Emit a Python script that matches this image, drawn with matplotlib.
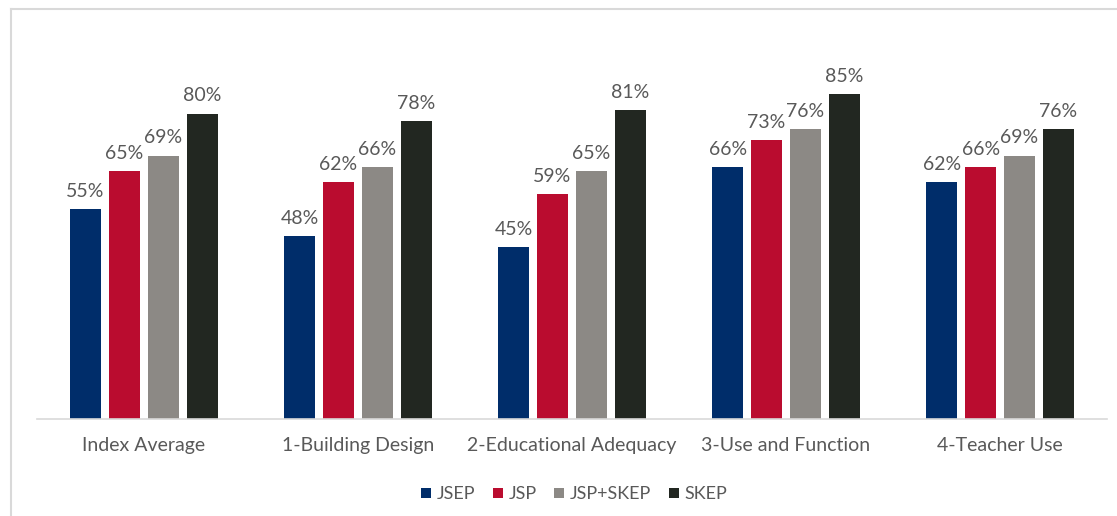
import matplotlib.pyplot as plt
import numpy as np
from matplotlib.lines import Line2D

plt.rcParams['font.family'] = ['Lato', 'DejaVu Sans']

categories = ['Index Average', '1-Building Design', '2-Educational Adequacy',
              '3-Use and Function', '4-Teacher Use']
series = ['JSEP', 'JSP', 'JSP+SKEP', 'SKEP']
jsep = [0.55, 0.48, 0.45, 0.66, 0.62]
jsp = [0.65, 0.62, 0.59, 0.73, 0.66]
jsp_skep = [0.69, 0.66, 0.65, 0.76, 0.69]
skep = [0.80, 0.78, 0.81, 0.85, 0.76]

colors = ['#002D6A', '#BA0C2F', '#8C8985', '#222721']
text_color = '#595959'

fig = plt.figure(figsize=(11.17, 5.16), dpi=100)
ax = fig.add_axes([0.0331, 0.188, 0.958, 0.740])

x = np.arange(len(categories))
width = 0.145  # bar width
step = 0.182   # distance between bar centres in a group

for i, (name, vals) in enumerate(zip(series, [jsep, jsp, jsp_skep, skep])):
    pos = x + (i - 1.5) * step
    rects = ax.bar(pos, vals, width, color=colors[i], label=name)
    for rect, v in zip(rects, vals):
        ax.annotate('{:.0f}%'.format(v * 100),
                    xy=(rect.get_x() + rect.get_width() / 2, v),
                    xytext=(0, 6.5), textcoords='offset points',
                    ha='center', va='bottom', fontsize=14, color=text_color)

ax.set_xlim(-0.5, len(categories) - 0.5)
ax.set_ylim(0, 1.0)
ax.set_yticks([])
ax.set_xticks(x)
ax.set_xticklabels(categories, fontsize=14, color=text_color)
ax.tick_params(axis='x', length=0, pad=13)
for side in ['top', 'right', 'left']:
    ax.spines[side].set_visible(False)
ax.spines['bottom'].set_color('#D9D9D9')
ax.spines['bottom'].set_linewidth(1.2)

leg = fig.legend(loc='center', bbox_to_anchor=(0.514, 0.042), ncol=4,
                 frameon=False, fontsize=13, handlelength=0.55,
                 handleheight=0.55, handletextpad=0.3, columnspacing=1.0)
for t in leg.get_texts():
    t.set_color(text_color)

# light outline along the left and top edges
fig.add_artist(Line2D([11 / 1117, 11 / 1117], [0, 1 - 9 / 516],
                      transform=fig.transFigure, color='#D9D9D9', lw=1.5))
fig.add_artist(Line2D([11 / 1117, 1], [1 - 9 / 516, 1 - 9 / 516],
                      transform=fig.transFigure, color='#D9D9D9', lw=1.5))

fig.savefig('out.png', dpi=100)
